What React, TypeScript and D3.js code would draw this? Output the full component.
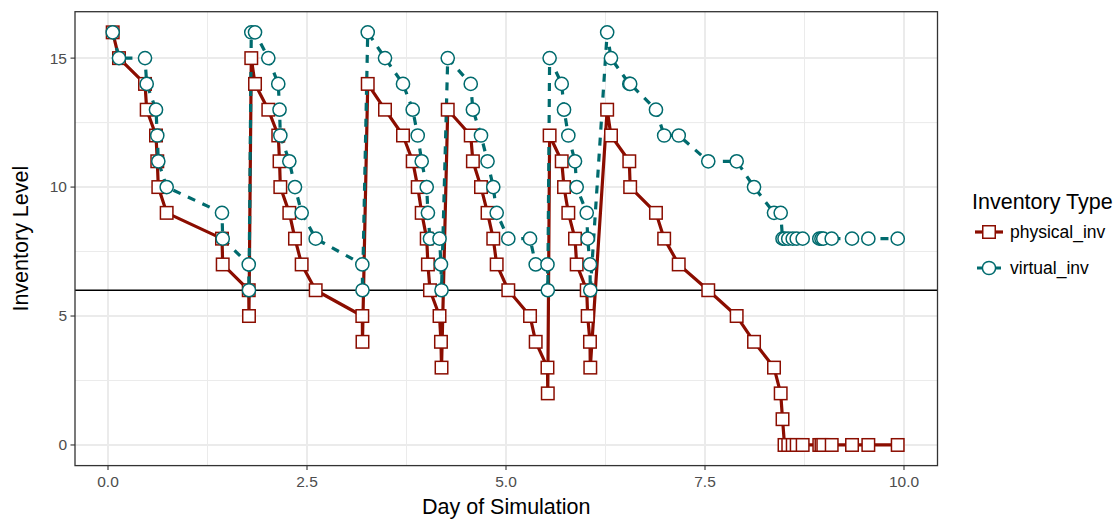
import React from "react";
import * as d3 from "d3";

// Simulation timeline (days) shared by both inventory series
const days = [
  0.059, 0.138, 0.465, 0.486, 0.603, 0.619, 0.632, 0.737, 1.432, 1.441,
  1.768, 1.771, 1.8, 1.847, 2.014, 2.139, 2.155, 2.165, 2.278, 2.349,
  2.433, 2.609, 3.195, 3.197, 3.263, 3.48, 3.706, 3.828, 3.891, 3.941,
  4.004, 4.019, 4.045, 4.165, 4.183, 4.19, 4.268, 4.557, 4.584, 4.686,
  4.768, 4.84, 4.883, 5.029, 5.302, 5.373, 5.521, 5.525, 5.548, 5.7,
  5.729, 5.783, 5.867, 5.888, 6.014, 6.026, 6.055, 6.059, 6.271, 6.319,
  6.549, 6.56, 6.884, 6.987, 7.17, 7.541, 7.898, 8.116, 8.367, 8.451,
  8.474, 8.499, 8.546, 8.602, 8.652, 8.727, 8.936, 8.963, 8.986, 9.092,
  9.347, 9.552, 9.921,
];

const physicalInv = [
  16, 15, 14, 13, 12, 11, 10, 9, 8, 7,
  6, 5, 15, 14, 13, 12, 11, 10, 9, 8,
  7, 6, 5, 4, 14, 13, 12, 11, 10, 9,
  8, 7, 6, 5, 4, 3, 13, 12, 11, 10,
  9, 8, 7, 6, 5, 4, 3, 2, 12, 11,
  10, 9, 8, 7, 6, 5, 4, 3, 13, 12,
  11, 10, 9, 8, 7, 6, 5, 4, 3, 2,
  1, 0, 0, 0, 0, 0, 0, 0, 0, 0,
  0, 0, 0,
];

const virtualInv = [
  16, 15, 15, 14, 13, 12, 11, 10, 9, 8,
  7, 6, 16, 16, 15, 14, 13, 12, 11, 10,
  9, 8, 7, 6, 16, 15, 14, 13, 12, 11,
  10, 9, 8, 8, 7, 6, 15, 14, 13, 12,
  11, 10, 9, 8, 8, 7, 7, 6, 15, 14,
  13, 12, 11, 10, 9, 8, 7, 6, 16, 15,
  14, 14, 13, 12, 12, 11, 11, 10, 9, 9,
  8, 8, 8, 8, 8, 8, 8, 8, 8, 8,
  8, 8, 8,
];

const reorderPoint = 6;
const xTicks = [0, 2.5, 5, 7.5, 10];
const xMinor = [1.25, 3.75, 6.25, 8.75];
const yTicks = [0, 5, 10, 15];
const yMinor = [2.5, 7.5, 12.5];
const seriesNames = ["physical_inv", "virtual_inv"];

const RED = "#8b0d00";
const TEAL = "#006b6e";
const GRID = "#ebebeb";
const FONT = "'Liberation Sans', Arial, Helvetica, sans-serif";

const W = 1120;
const H = 519;
const panel = { left: 75, right: 937.5, top: 11.7, bottom: 465.6 };

export default function App() {
  const x = d3
    .scaleLinear()
    .domain([-0.4146, 10.4209])
    .range([panel.left, panel.right]);
  const y = d3
    .scaleLinear()
    .domain([-0.8, 16.8])
    .range([panel.bottom, panel.top]);

  const pts = days.map((d, i) => ({ d, p: physicalInv[i], v: virtualInv[i] }));
  const lineP = d3
    .line<{ d: number; p: number; v: number }>()
    .x((o) => x(o.d))
    .y((o) => y(o.p));
  const lineV = d3
    .line<{ d: number; p: number; v: number }>()
    .x((o) => x(o.d))
    .y((o) => y(o.v));

  const sq = 12.5;
  const r = 6.6;

  return (
    <svg
      width={W}
      height={H}
      style={{ position: "absolute", left: 0, top: 0, background: "#fff" }}
      fontFamily={FONT}
    >
      <rect x={0} y={0} width={W} height={H} fill="#fff" />
      <defs>
        <clipPath id="panel-clip">
          <rect
            x={panel.left}
            y={panel.top}
            width={panel.right - panel.left}
            height={panel.bottom - panel.top}
          />
        </clipPath>
      </defs>

      {/* grid */}
      {xMinor.map((t) => (
        <line key={"xm" + t} x1={x(t)} x2={x(t)} y1={panel.top} y2={panel.bottom} stroke={GRID} strokeWidth={1} />
      ))}
      {yMinor.map((t) => (
        <line key={"ym" + t} x1={panel.left} x2={panel.right} y1={y(t)} y2={y(t)} stroke={GRID} strokeWidth={1} />
      ))}
      {xTicks.map((t) => (
        <line key={"xg" + t} x1={x(t)} x2={x(t)} y1={panel.top} y2={panel.bottom} stroke={GRID} strokeWidth={2} />
      ))}
      {yTicks.map((t) => (
        <line key={"yg" + t} x1={panel.left} x2={panel.right} y1={y(t)} y2={y(t)} stroke={GRID} strokeWidth={2} />
      ))}

      <g clipPath="url(#panel-clip)">
        {/* reorder point */}
        <line
          x1={panel.left}
          x2={panel.right}
          y1={y(reorderPoint)}
          y2={y(reorderPoint)}
          stroke="#000"
          strokeWidth={1.6}
        />
        <path d={lineP(pts) ?? ""} fill="none" stroke={RED} strokeWidth={3.2} strokeLinejoin="round" />
        <path
          d={lineV(pts) ?? ""}
          fill="none"
          stroke={TEAL}
          strokeWidth={3.2}
          strokeDasharray="8 8"
        />
        {pts.map((o, i) => (
          <rect
            key={"p" + i}
            x={x(o.d) - sq / 2}
            y={y(o.p) - sq / 2}
            width={sq}
            height={sq}
            fill="#fff"
            stroke={RED}
            strokeWidth={1.5}
          />
        ))}
        {pts.map((o, i) => (
          <circle
            key={"v" + i}
            cx={x(o.d)}
            cy={y(o.v)}
            r={r}
            fill="#fff"
            stroke={TEAL}
            strokeWidth={1.5}
          />
        ))}
      </g>

      {/* panel border */}
      <rect
        x={panel.left}
        y={panel.top}
        width={panel.right - panel.left}
        height={panel.bottom - panel.top}
        fill="none"
        stroke="#333"
        strokeWidth={1.3}
      />

      {/* axes */}
      {xTicks.map((t) => (
        <g key={"xt" + t}>
          <line x1={x(t)} x2={x(t)} y1={panel.bottom} y2={panel.bottom + 4.5} stroke="#333" strokeWidth={1.1} />
          <text x={x(t)} y={panel.bottom + 21} textAnchor="middle" fontSize={15.5} fill="#4d4d4d">
            {d3.format(".1f")(t)}
          </text>
        </g>
      ))}
      {yTicks.map((t) => (
        <g key={"yt" + t}>
          <line x1={panel.left - 4.5} x2={panel.left} y1={y(t)} y2={y(t)} stroke="#333" strokeWidth={1.1} />
          <text x={panel.left - 8} y={y(t)} dy="0.35em" textAnchor="end" fontSize={15.5} fill="#4d4d4d">
            {t}
          </text>
        </g>
      ))}

      <text x={(panel.left + panel.right) / 2} y={514} textAnchor="middle" fontSize={21.5} fill="#000">
        Day of Simulation
      </text>
      <text
        transform={`translate(28, ${(panel.top + panel.bottom) / 2}) rotate(-90)`}
        textAnchor="middle"
        fontSize={21.5}
        fill="#000"
      >
        Inventory Level
      </text>

      {/* legend */}
      <g>
        <text x={972} y={209} fontSize={21.5} fill="#000">
          Inventory Type
        </text>
        {seriesNames.map((name, i) => {
          const cy = 232 + i * 36;
          const isP = i === 0;
          const col = isP ? RED : TEAL;
          return (
            <g key={name}>
              <line
                x1={975}
                x2={1003}
                y1={cy}
                y2={cy}
                stroke={col}
                strokeWidth={3.2}
                strokeDasharray={isP ? undefined : "8 8"}
                strokeDashoffset={isP ? 0 : -2}
              />
              {isP ? (
                <rect x={989 - sq / 2} y={cy - sq / 2} width={sq} height={sq} fill="#fff" stroke={col} strokeWidth={1.5} />
              ) : (
                <circle cx={989} cy={cy} r={r} fill="#fff" stroke={col} strokeWidth={1.5} />
              )}
              <text x={1010} y={cy} dy="0.35em" fontSize={17.5} fill="#000">
                {name}
              </text>
            </g>
          );
        })}
      </g>
    </svg>
  );
}
